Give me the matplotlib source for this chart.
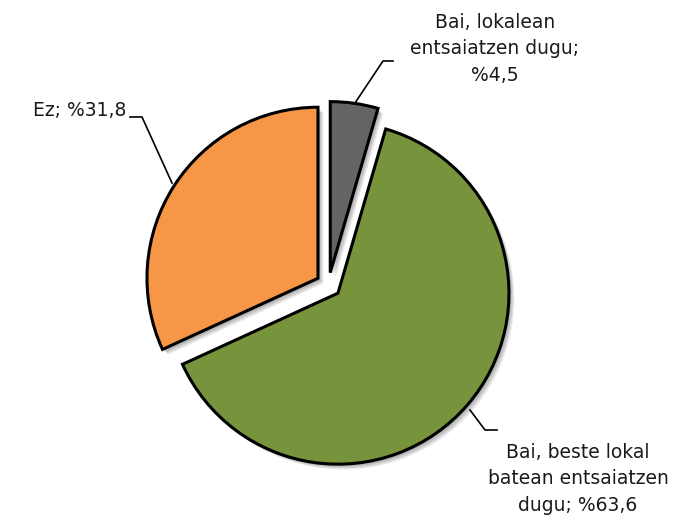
import matplotlib
matplotlib.use("Agg")
import matplotlib.pyplot as plt
from matplotlib.patches import Wedge

categories = ["Bai, lokalean\nentsaiatzen dugu;\n%4,5",
              "Bai, beste lokal\nbatean entsaiatzen\ndugu; %63,6",
              "Ez; %31,8"]
values = [4.5, 63.6, 31.8]
colors = ["#646464", "#77933C", "#F79646"]

W, H = 697, 518
fig = plt.figure(figsize=(W / 100, H / 100), dpi=100)
ax = fig.add_axes([0, 0, 1, 1])

R = 171
cx, cy = 328.5, H - 285
wedges, _ = ax.pie(values, colors=colors, startangle=90, counterclock=False,
                   radius=R, center=(cx, cy), explode=[12.5] * 3,
                   wedgeprops=dict(edgecolor="black", linewidth=2.2, zorder=3))
ax.set_xlim(0, W)
ax.set_ylim(0, H)
ax.set_aspect("equal")
ax.axis("off")

# soft drop shadow
for w in wedges:
    for k in range(1, 7):
        s = Wedge((w.center[0] + 0.9 * k, w.center[1] - 0.9 * k), w.r,
                  w.theta1, w.theta2, facecolor="#000000", edgecolor="none",
                  alpha=0.07, zorder=1)
        ax.add_patch(s)

def py(y):
    return H - y

fs = 13.5
# gray label
ax.plot([355, 383, 393], [py(103), py(61), py(61)], color="black", lw=1.2)
ax.text(495, py(49), categories[0], ha="center", va="center", fontsize=fs,
        linespacing=1.47, color="#1a1a1a")
# orange label
ax.plot([130, 142, 172], [py(117), py(117), py(183)], color="black", lw=1.2)
ax.text(126, py(111), categories[2], ha="right", va="center", fontsize=fs,
        color="#1a1a1a")
# green label
ax.plot([470, 485, 497], [py(410), py(430), py(430)], color="black", lw=1.2)
ax.text(578, py(479), categories[1], ha="center", va="center", fontsize=fs,
        linespacing=1.47, color="#1a1a1a")

fig.savefig("out.png", dpi=100)
